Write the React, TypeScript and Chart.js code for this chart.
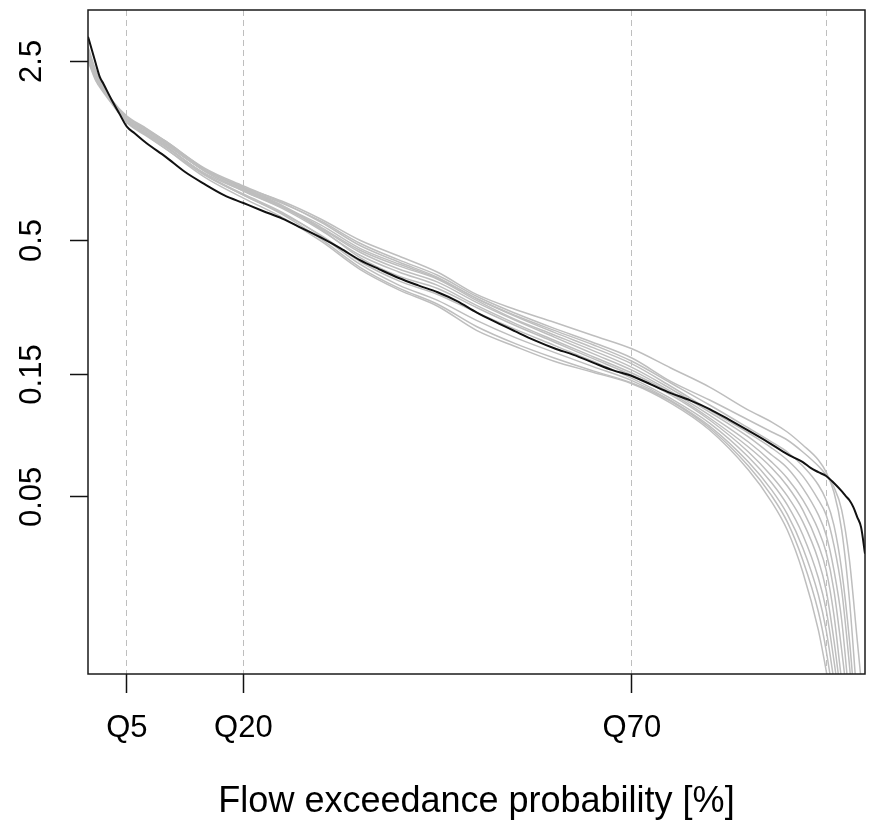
import { useEffect, useRef } from "react";
import { Chart, registerables } from "chart.js";

Chart.register(...registerables);

const FONT_FAMILY = '"Liberation Sans", Arial, Helvetica, sans-serif';

// Axis ticks / labels
const X_GRID = [5, 20, 70, 95];
const X_TICK_LABELS = ["Q5", "Q20", "Q70", ""];
const Y_TICKS = [2.5, 0.5, 0.15, 0.05];
const Y_TICK_LABELS = ["2.5", "0.5", "0.15", "0.05"];
const X_TITLE = "Flow exceedance probability [%]";

// Observed flow duration curve (black)
const P_OBS = [0, 0.5, 1, 1.5, 2, 3, 4, 5, 6, 7.5, 10, 12.5, 15, 17.5, 20, 22.5, 25, 27.5, 30, 32.5, 35, 37.5, 40, 42.5, 45, 47.5, 50, 52.5, 55, 57.5, 60, 62.5, 65, 67.5, 70, 72.5, 75, 77.5, 80, 82.5, 85, 87.5, 90, 91, 92, 93, 94, 95, 96, 97, 97.5, 98, 98.5, 99, 99.5, 100];
const Q_OBSERVED = [3.12, 2.77, 2.45, 2.18, 2.04, 1.78, 1.57, 1.39, 1.31, 1.2, 1.06, 0.925, 0.83, 0.752, 0.7, 0.652, 0.609, 0.559, 0.513, 0.466, 0.419, 0.386, 0.357, 0.334, 0.314, 0.29, 0.262, 0.24, 0.221, 0.204, 0.19, 0.179, 0.167, 0.156, 0.148, 0.137, 0.127, 0.119, 0.11, 0.1, 0.0906, 0.0818, 0.0734, 0.0708, 0.0683, 0.0648, 0.0624, 0.0603, 0.0566, 0.0526, 0.0504, 0.0485, 0.0456, 0.0417, 0.038, 0.03];

// Simulated flow duration curves (grey)
const P_SIM = [0, 1, 2, 3, 5, 7.5, 10, 15, 20, 25, 30, 35, 40, 45, 50, 55, 60, 65, 70, 75, 80, 85, 88, 90, 92, 94, 95, 96, 97, 98, 99, 100];
const SIM_01 = [2.73, 2.24, 1.96, 1.75, 1.49, 1.34, 1.2, 0.95, 0.808, 0.711, 0.605, 0.501, 0.435, 0.376, 0.308, 0.269, 0.24, 0.213, 0.189, 0.159, 0.134, 0.109, 0.0979, 0.0895, 0.0796, 0.0696, 0.0624, 0.0522, 0.0371, 0.0198, 0.0081, 0.004];
const SIM_02 = [2.65, 2.2, 1.94, 1.75, 1.47, 1.31, 1.18, 0.941, 0.801, 0.698, 0.595, 0.488, 0.42, 0.366, 0.303, 0.26, 0.227, 0.2, 0.174, 0.141, 0.1193, 0.0997, 0.0895, 0.0833, 0.0748, 0.0659, 0.0608, 0.0546, 0.0444, 0.0283, 0.0138, 0.0067];
const SIM_03 = [2.8, 2.28, 1.98, 1.76, 1.52, 1.36, 1.22, 0.958, 0.816, 0.704, 0.589, 0.478, 0.412, 0.359, 0.297, 0.255, 0.223, 0.196, 0.169, 0.139, 0.1141, 0.0928, 0.0818, 0.0748, 0.0659, 0.0556, 0.0486, 0.0388, 0.0259, 0.0138, 0.006, 0.003];
const SIM_04 = [2.61, 2.16, 1.93, 1.73, 1.48, 1.32, 1.19, 0.933, 0.787, 0.679, 0.574, 0.466, 0.405, 0.356, 0.297, 0.253, 0.219, 0.191, 0.165, 0.135, 0.109, 0.0887, 0.0775, 0.0696, 0.0602, 0.0486, 0.0425, 0.0324, 0.0216, 0.011, 0.005, 0.003];
const SIM_05 = [2.75, 2.26, 1.96, 1.76, 1.51, 1.35, 1.21, 0.95, 0.801, 0.686, 0.563, 0.458, 0.398, 0.353, 0.292, 0.246, 0.214, 0.186, 0.16, 0.132, 0.1071, 0.0856, 0.0728, 0.0648, 0.0541, 0.0425, 0.0355, 0.0259, 0.0165, 0.008, 0.004, 0.002];
const SIM_06 = [2.56, 2.12, 1.91, 1.73, 1.45, 1.3, 1.16, 0.916, 0.78, 0.673, 0.558, 0.45, 0.387, 0.344, 0.287, 0.244, 0.21, 0.181, 0.156, 0.129, 0.1042, 0.0818, 0.0683, 0.0591, 0.0486, 0.0371, 0.0304, 0.0216, 0.0126, 0.007, 0.004, 0.002];
const SIM_07 = [2.7, 2.22, 1.94, 1.75, 1.49, 1.34, 1.2, 0.933, 0.78, 0.667, 0.548, 0.438, 0.377, 0.334, 0.279, 0.237, 0.204, 0.176, 0.152, 0.127, 0.1015, 0.0782, 0.0648, 0.0551, 0.0444, 0.0324, 0.0259, 0.0173, 0.0096, 0.006, 0.003, 0.002];
const SIM_08 = [2.85, 2.3, 2.0, 1.78, 1.53, 1.37, 1.22, 0.95, 0.794, 0.679, 0.553, 0.429, 0.363, 0.325, 0.274, 0.233, 0.201, 0.173, 0.149, 0.125, 0.0997, 0.0748, 0.0602, 0.0504, 0.0399, 0.0283, 0.0216, 0.0138, 0.008, 0.005, 0.003, 0.002];
const SIM_09 = [2.51, 2.1, 1.89, 1.72, 1.44, 1.28, 1.14, 0.9, 0.752, 0.638, 0.524, 0.414, 0.348, 0.308, 0.262, 0.225, 0.195, 0.169, 0.145, 0.121, 0.097, 0.0715, 0.0566, 0.0465, 0.0355, 0.0241, 0.0181, 0.0115, 0.007, 0.004, 0.003, 0.002];
const SIM_10 = [2.68, 2.19, 1.94, 1.75, 1.47, 1.3, 1.16, 0.908, 0.759, 0.644, 0.52, 0.404, 0.335, 0.292, 0.244, 0.209, 0.183, 0.161, 0.142, 0.119, 0.0944, 0.0683, 0.0531, 0.0428, 0.0316, 0.0207, 0.0151, 0.0096, 0.006, 0.004, 0.003, 0.002];
const SIM_11 = [2.78, 2.26, 1.96, 1.76, 1.48, 1.31, 1.17, 0.908, 0.752, 0.632, 0.506, 0.393, 0.326, 0.282, 0.231, 0.198, 0.174, 0.155, 0.139, 0.118, 0.0928, 0.0659, 0.0504, 0.0399, 0.0283, 0.0178, 0.0126, 0.008, 0.005, 0.003, 0.002, 0.0015];
const SIM_12 = [2.59, 2.15, 1.92, 1.74, 1.46, 1.29, 1.14, 0.884, 0.732, 0.615, 0.497, 0.386, 0.321, 0.277, 0.223, 0.193, 0.169, 0.153, 0.138, 0.116, 0.0911, 0.0636, 0.0477, 0.0371, 0.0254, 0.0151, 0.0105, 0.007, 0.004, 0.003, 0.002, 0.0015];
const SIMULATED = [SIM_01, SIM_02, SIM_03, SIM_04, SIM_05, SIM_06, SIM_07, SIM_08, SIM_09, SIM_10, SIM_11, SIM_12];

const Y_MIN = 0.01018;
const Y_MAX = 3.965;

export default function App() {
  const ref = useRef<HTMLCanvasElement>(null);

  useEffect(() => {
    document.body.style.margin = "0";
    const canvas = ref.current;
    if (!canvas) return;

    const boxPlugin = {
      id: "plotBox",
      afterDatasetsDraw(chart: any) {
        const { ctx, chartArea: a } = chart;
        ctx.save();
        ctx.strokeStyle = "#1a1a1a";
        ctx.lineWidth = 1.5;
        ctx.strokeRect(a.left, a.top, a.right - a.left, a.bottom - a.top);
        ctx.restore();
      },
    };

    const datasets: any[] = [
      {
        label: "Observed",
        data: P_OBS.map((x, i) => ({ x, y: Q_OBSERVED[i] })),
        borderColor: "#111111",
        borderWidth: 2,
        pointRadius: 0,
        cubicInterpolationMode: "monotone",
      },
      ...SIMULATED.map((s, k) => ({
        label: `Simulation ${k + 1}`,
        data: P_SIM.map((x, i) => ({ x, y: s[i] })),
        borderColor: "#bebebe",
        borderWidth: 1.5,
        pointRadius: 0,
        cubicInterpolationMode: "monotone",
      })),
    ];

    const chart = new Chart(canvas, {
      type: "line",
      data: { datasets },
      options: {
        animation: false,
        responsive: false,
        devicePixelRatio: 1,
        events: [],
        layout: { padding: { left: 0, top: 10, right: 4, bottom: 0 } },
        plugins: {
          legend: { display: false },
          tooltip: { enabled: false },
          title: { display: false },
        },
        scales: {
          x: {
            type: "linear",
            min: 0,
            max: 100,
            position: "bottom",
            afterBuildTicks: (s: any) => {
              s.ticks = X_GRID.map((v) => ({ value: v }));
            },
            afterFit: (s: any) => {
              s.height = 150;
              s.paddingLeft = 0;
              s.paddingRight = 0;
            },
            grid: {
              display: true,
              drawOnChartArea: true,
              drawTicks: true,
              color: "#bebebe",
              lineWidth: 1,
              tickLength: 19,
              tickWidth: 1.5,
              tickColor: (c: any) => (X_TICK_LABELS[c.index] ? "#111111" : "rgba(0,0,0,0)"),
              tickBorderDash: [],
              borderDash: [6, 4],
            } as any,
            border: { display: false, dash: [6, 4] },
            ticks: {
              autoSkip: false,
              maxRotation: 0,
              minRotation: 0,
              padding: 17,
              color: "#000000",
              font: { family: FONT_FAMILY, size: 31 },
              callback: (v: any) => {
                const i = X_GRID.indexOf(Number(v));
                return i >= 0 ? X_TICK_LABELS[i] : "";
              },
            },
            title: {
              display: true,
              text: X_TITLE,
              color: "#000000",
              font: { family: FONT_FAMILY, size: 36 },
              padding: { top: 0, bottom: 0 },
            },
          },
          y: {
            type: "logarithmic",
            min: Y_MIN,
            max: Y_MAX,
            position: "left",
            afterBuildTicks: (s: any) => {
              s.ticks = Y_TICKS.map((v) => ({ value: v }));
            },
            afterFit: (s: any) => {
              s.width = 88;
              s.paddingTop = 0;
              s.paddingBottom = 0;
            },
            grid: {
              display: true,
              drawOnChartArea: false,
              drawTicks: true,
              tickLength: 18,
              tickWidth: 1.5,
              tickColor: "#111111",
              tickBorderDash: [],
            } as any,
            border: { display: false },
            ticks: {
              autoSkip: false,
              minRotation: 90,
              maxRotation: 90,
              crossAlign: "center",
              padding: 7,
              color: "#000000",
              font: { family: FONT_FAMILY, size: 31 },
              callback: (v: any) => {
                const i = Y_TICKS.indexOf(Number(v));
                return i >= 0 ? Y_TICK_LABELS[i] : "";
              },
            },
          },
        },
      } as any,
      plugins: [boxPlugin],
    });

    return () => chart.destroy();
  }, []);

  return (
    <canvas
      ref={ref}
      width={869}
      height={824}
      style={{ display: "block", width: 869, height: 824 }}
    />
  );
}
